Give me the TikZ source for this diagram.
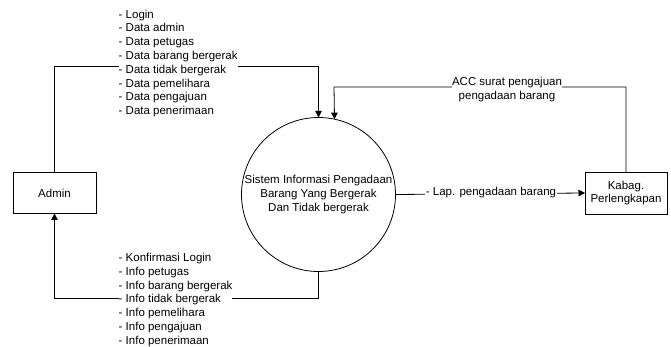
\documentclass[tikz,border=0pt]{standalone}
\usepackage{fontspec}
\setmainfont{Liberation Sans}
\usetikzlibrary{arrows.meta}
\begin{document}
\begin{tikzpicture}[x=1pt,y=-1pt,
  every node/.style={font=\fontsize{11.5}{13.8}\selectfont},
  entity/.style={draw,line width=0.8pt,minimum width=83pt,minimum height=41pt,align=center,outer sep=0pt,inner sep=0pt},
  proc/.style={draw,circle,line width=0.8pt,minimum size=154pt,inner sep=0pt,outer sep=0pt,align=center},
  flow/.style={line width=0.8pt,-{Triangle[width=6.5pt,length=6.5pt]}},
  lbl/.style={fill=white,inner sep=0pt,align=left},
  clbl/.style={fill=white,inner sep=0.5pt,align=center}]
\useasboundingbox[fill=white] (0,0) rectangle (671,347);
\node[entity] (admin) at (54.5,193) {Admin};
\node[entity,minimum width=82pt,minimum height=42pt] (kabag) at (626,193) {Kabag.\\Perlengkapan};
\node[proc] (sys) at (318.5,194.5) {\fontsize{11.5}{11.6}\selectfont Sistem Informasi Pengadaan\\Barang Yang Bergerak\\Dan Tidak bergerak};
\coordinate (ytop) at (0,66);
\coordinate (ybot) at (0,298.5);
\coordinate (yacc) at (0,87);
\coordinate (xacc) at (334,0);
% admin -> system
\draw[flow] (admin.north) -- (admin.north |- ytop) -- (sys.north |- ytop) -- (sys.north);
% system -> admin
\draw[flow] (sys.south) -- (sys.south |- ybot) -- (admin.south |- ybot) -- (admin.south);
% system -> kabag
\draw[flow] (sys.east) -- (kabag.west);
% kabag -> system
\draw[flow] (kabag.north) -- (kabag.north |- yacc) -- (xacc |- yacc) -- (sys.78.4);
% labels
\node[lbl,anchor=west] (ltop) at (118.5,63.5) {- Login\\- Data admin\\- Data petugas\\- Data barang bergerak\\- Data tidak bergerak\\- Data pemelihara\\- Data pengajuan\\- Data penerimaan};
\node[lbl,anchor=west] (lbot) at (118.5,300) {- Konfirmasi Login\\- Info petugas\\- Info barang bergerak\\- Info tidak bergerak\\- Info pemelihara\\- Info pengajuan\\- Info penerimaan};
\node[clbl] (lacc) at (507,89.5) {ACC surat pengajuan\\pengadaan barang};
\node[clbl] (llap) at (491,193) {- Lap. pengadaan barang};
\end{tikzpicture}
\end{document}
